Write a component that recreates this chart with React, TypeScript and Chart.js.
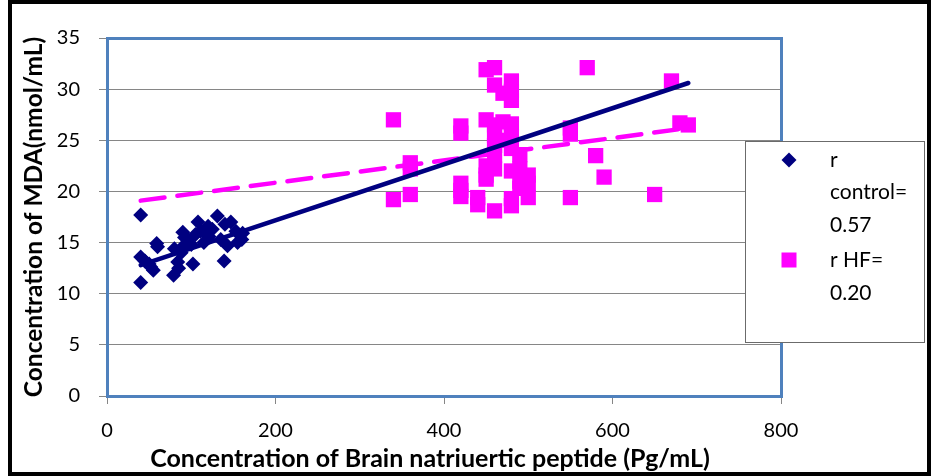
import React, { useEffect, useRef } from "react";
import { Chart, registerables } from "chart.js";

Chart.register(...registerables);

// Control group (BNP pg/mL vs MDA nmol/mL)
const controlX = [40, 40, 40, 45, 50, 52, 55, 59, 60, 79, 80, 84, 85, 88, 90, 91, 92, 96, 100, 102, 105, 108, 111, 115, 120, 121, 125, 131, 135, 139, 140, 143, 147, 153, 155, 160, 161];
const controlY = [17.7, 13.6, 11.1, 13.2, 12.9, 12.6, 12.3, 14.9, 14.6, 11.8, 14.4, 13.1, 12.5, 14.0, 16.0, 14.7, 15.5, 15.3, 14.8, 12.9, 15.8, 17.0, 16.1, 15.0, 16.6, 15.6, 16.3, 17.6, 15.3, 13.2, 16.8, 14.7, 17.0, 16.1, 15.0, 15.3, 15.9];

// Heart failure group
const hfX = [340, 340, 360, 360, 360, 420, 420, 420, 420, 420, 440, 440, 450, 450, 450, 450, 450, 460, 460, 460, 460, 460, 460, 460, 460, 470, 470, 470, 480, 480, 480, 480, 480, 480, 480, 480, 480, 490, 490, 490, 490, 500, 500, 500, 550, 550, 550, 570, 580, 590, 650, 670, 680, 690];
const hfY = [27.0, 19.2, 22.8, 22.2, 19.7, 26.4, 25.7, 20.8, 20.1, 19.5, 19.4, 18.7, 31.9, 27.0, 22.5, 21.6, 21.2, 32.1, 30.4, 26.5, 25.5, 24.5, 23.5, 22.2, 18.1, 29.6, 26.8, 25.0, 30.8, 29.8, 28.9, 26.6, 25.4, 24.2, 22.0, 19.3, 18.6, 23.6, 22.2, 21.0, 20.3, 21.6, 20.8, 19.4, 26.2, 25.6, 19.4, 32.1, 23.5, 21.4, 19.7, 30.8, 26.7, 26.5];

// Trend lines
const controlTrendX = [40, 690];
const controlTrendY = [12.8, 30.6];
const hfTrendX = [40, 690];
const hfTrendY = [19.1, 26.2];

// Axis and legend text
const xTitle = "Concentration of Brain natriuertic peptide (Pg/mL)";
const yTitle = "Concentration of MDA(nmol/mL)";
const legendControl = ["r", "control=", "0.57"];
const legendHF = ["r HF=", "0.20"];

const NAVY = "#000080";
const MAGENTA = "#FF00FF";
const FONT = "Lato, 'Open Sans', sans-serif";

const toPts = (xs: number[], ys: number[]) => xs.map((x, i) => ({ x, y: ys[i] }));

const decorPlugin = {
  id: "decor",
  afterDraw(chart: any) {
    const { ctx, chartArea } = chart;
    const { left, right, top, bottom } = chartArea;
    ctx.save();
    // plot area border
    ctx.strokeStyle = "#4F81BD";
    ctx.lineWidth = 3;
    ctx.strokeRect(left + 0.5, top + 0.5, right - left, bottom - top);

    // x axis title
    ctx.fillStyle = "#000000";
    ctx.font = `bold 25px ${FONT}`;
    ctx.textAlign = "center";
    ctx.textBaseline = "alphabetic";
    ctx.fillText(xTitle, 430, 467);

    // legend box
    const bx = 745, by = 141, bw = 179, bh = 201;
    ctx.fillStyle = "#ffffff";
    ctx.fillRect(bx, by, bw, bh);
    ctx.strokeStyle = "#6b6b6b";
    ctx.lineWidth = 1;
    ctx.strokeRect(bx + 0.5, by + 0.5, bw, bh);

    // diamond marker
    const dx = 789, dy = 160, dr = 7.5;
    ctx.fillStyle = NAVY;
    ctx.beginPath();
    ctx.moveTo(dx - dr, dy);
    ctx.lineTo(dx, dy - dr);
    ctx.lineTo(dx + dr, dy);
    ctx.lineTo(dx, dy + dr);
    ctx.closePath();
    ctx.fill();
    // square marker
    ctx.fillStyle = MAGENTA;
    ctx.fillRect(789 - 7.5, 260 - 7.5, 15, 15);

    ctx.fillStyle = "#000000";
    ctx.font = `21px ${FONT}`;
    ctx.textBaseline = "middle";
    ctx.textAlign = "left";
    const tx = 830;
    const ysC = [160, 192, 225];
    legendControl.forEach((t, i) => ctx.fillText(t, tx, ysC[i]));
    const ysH = [260, 293];
    legendHF.forEach((t, i) => ctx.fillText(t, tx, ysH[i]));

    // outer frame
    ctx.strokeStyle = "#000000";
    ctx.lineWidth = 4;
    ctx.strokeRect(10, 2, chart.width - 12, chart.height - 4);
    ctx.restore();
  },
};

export default function App() {
  const ref = useRef<HTMLCanvasElement | null>(null);

  useEffect(() => {
    document.body.style.margin = "0";
    const canvas = ref.current;
    if (!canvas) return;
    const chart = new Chart(canvas, {
      type: "scatter",
      data: {
        datasets: [
          {
            label: "control trend",
            data: toPts(controlTrendX, controlTrendY),
            showLine: true,
            borderColor: NAVY,
            borderWidth: 4.5,
            borderCapStyle: "round",
            pointRadius: 0,
            order: 0,
          },
          {
            label: "HF trend",
            data: toPts(hfTrendX, hfTrendY),
            showLine: true,
            borderColor: MAGENTA,
            borderWidth: 4.5,
            borderCapStyle: "round",
            borderDash: [24, 13],
            pointRadius: 0,
            order: 1,
          },
          {
            label: "r control= 0.57",
            data: toPts(controlX, controlY),
            pointStyle: "rectRot",
            pointRadius: 7.5,
            backgroundColor: NAVY,
            borderColor: NAVY,
            borderWidth: 0,
            order: 2,
          },
          {
            label: "r HF= 0.20",
            data: toPts(hfX, hfY),
            pointStyle: "rect",
            pointRadius: 10.8,
            backgroundColor: MAGENTA,
            borderColor: MAGENTA,
            borderWidth: 0,
            order: 3,
          },
        ],
      },
      options: {
        responsive: false,
        animation: false,
        layout: { padding: { top: 38, right: 150, left: 0, bottom: 0 } },
        plugins: {
          legend: { display: false },
          tooltip: { enabled: false },
        },
        scales: {
          x: {
            type: "linear",
            min: 0,
            max: 800,
            ticks: {
              stepSize: 200,
              color: "#000000",
              font: { family: FONT, size: 20 },
              padding: 15,
            },
            grid: {
              drawOnChartArea: false,
              color: "#868686",
              tickLength: 8,
            },
            border: { display: false },
            title: { display: false, text: xTitle },
            afterFit(scale: any) {
              scale.height = 80;
            },
          },
          y: {
            type: "linear",
            min: 0,
            max: 35,
            ticks: {
              stepSize: 5,
              color: "#000000",
              font: { family: FONT, size: 20 },
              padding: 19,
            },
            grid: {
              color: "#868686",
              tickLength: 8,
            },
            border: { display: false },
            title: {
              display: true,
              text: yTitle,
              color: "#000000",
              font: { family: FONT, size: 24.5, weight: "bold" },
              padding: { top: 19, bottom: 0 },
            },
            afterFit(scale: any) {
              scale.width = 107;
            },
          },
        },
      },
      plugins: [decorPlugin],
    });
    return () => chart.destroy();
  }, []);

  return (
    <div style={{ position: "absolute", left: 0, top: 0, width: 931, height: 476, background: "#fff" }}>
      <canvas ref={ref} width={931} height={476} />
    </div>
  );
}
